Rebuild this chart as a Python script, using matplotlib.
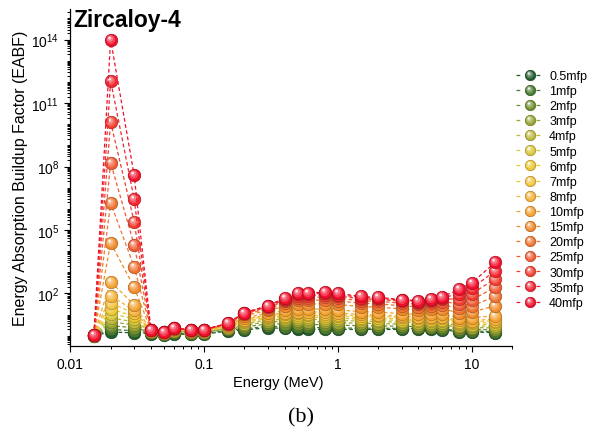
import numpy as np
import matplotlib
matplotlib.use("Agg")
import matplotlib.pyplot as plt
import matplotlib.colors as mcolors
from matplotlib.path import Path
from matplotlib.lines import Line2D
from matplotlib.legend_handler import HandlerTuple
from matplotlib.ticker import FixedLocator, FixedFormatter, LogLocator, NullFormatter, LogFormatterSciNotation

plt.rcParams['font.family'] = ['Liberation Sans', 'DejaVu Sans']
plt.rcParams['mathtext.fontset'] = 'custom'
plt.rcParams['mathtext.rm'] = 'Liberation Sans'
plt.rcParams['mathtext.it'] = 'Liberation Sans:italic'
plt.rcParams['mathtext.bf'] = 'Liberation Sans:bold'

# photon energies (MeV)
energy = [0.015, 0.02, 0.03, 0.04, 0.05, 0.06, 0.08, 0.1, 0.15, 0.2, 0.3, 0.4, 0.5,
          0.6, 0.8, 1, 1.5, 2, 3, 4, 5, 6, 8, 10, 15]

mfp_labels = ['0.5mfp', '1mfp', '2mfp', '3mfp', '4mfp', '5mfp', '6mfp', '7mfp', '8mfp',
              '10mfp', '15mfp', '20mfp', '25mfp', '30mfp', '35mfp', '40mfp']

# EABF, one list per penetration depth
b05 = [1.00, 1.51, 1.38, 1.26, 1.15, 1.20, 1.17, 1.20, 1.66, 1.91, 2.40, 2.24, 2.14, 2.09, 2.00, 2.00, 2.00, 2.00, 2.00, 2.00, 2.00, 1.91, 1.58, 1.51, 1.41]
b1 = [1.01, 2.00, 1.74, 1.38, 1.20, 1.32, 1.26, 1.29, 1.82, 2.14, 2.82, 2.69, 2.57, 2.51, 2.40, 2.34, 2.29, 2.29, 2.24, 2.24, 2.24, 2.14, 1.78, 1.70, 1.58]
b2 = [1.02, 3.02, 2.40, 1.51, 1.26, 1.48, 1.38, 1.41, 2.04, 2.63, 3.63, 3.63, 3.55, 3.47, 3.31, 3.16, 3.02, 2.95, 2.82, 2.75, 2.75, 2.69, 2.14, 2.04, 1.91]
b3 = [1.03, 4.57, 3.31, 1.58, 1.29, 1.62, 1.48, 1.51, 2.24, 3.16, 4.57, 4.79, 4.79, 4.68, 4.47, 4.17, 3.89, 3.80, 3.55, 3.39, 3.39, 3.31, 2.57, 2.45, 2.34]
b4 = [1.04, 7.08, 4.57, 1.66, 1.32, 1.74, 1.55, 1.58, 2.40, 3.72, 5.50, 6.03, 6.17, 6.03, 5.75, 5.37, 4.90, 4.79, 4.37, 4.17, 4.17, 4.07, 3.02, 2.88, 2.88]
b5 = [1.05, 11.2, 6.31, 1.70, 1.35, 1.82, 1.62, 1.66, 2.57, 4.27, 6.61, 7.41, 7.76, 7.59, 7.24, 6.76, 6.03, 5.89, 5.25, 5.01, 5.01, 4.90, 3.55, 3.39, 3.55]
b6 = [1.06, 18.6, 8.51, 1.74, 1.38, 1.91, 1.66, 1.70, 2.69, 4.79, 7.76, 8.91, 9.55, 9.33, 8.91, 8.32, 7.24, 7.08, 6.31, 5.89, 5.89, 5.89, 4.07, 3.98, 4.27]
b7 = [1.07, 35.5, 11.5, 1.78, 1.38, 1.95, 1.70, 1.74, 2.82, 5.37, 8.91, 10.5, 11.5, 11.2, 11.0, 10.0, 8.71, 8.32, 7.41, 6.92, 6.92, 6.92, 4.68, 4.57, 5.25]
b8 = [1.07, 79.4, 15.8, 1.78, 1.41, 2.00, 1.74, 1.78, 2.95, 5.89, 10.0, 12.3, 13.8, 13.5, 13.2, 12.0, 10.2, 9.77, 8.51, 7.94, 7.94, 8.13, 5.37, 5.25, 6.31]
b10 = [1.08, 363, 28.8, 1.82, 1.41, 2.09, 1.78, 1.82, 3.16, 6.92, 12.0, 15.8, 18.6, 18.2, 18.2, 16.6, 13.8, 13.2, 11.2, 10.2, 10.5, 11.0, 7.08, 7.08, 8.91]
b15 = [1.10, 2.51e4, 195, 1.86, 1.45, 2.14, 1.82, 1.86, 3.47, 8.91, 15.8, 24.5, 31.6, 31.6, 33.1, 30.2, 24.0, 22.4, 18.6, 16.6, 17.8, 19.5, 12.0, 13.2, 26.3]
b20 = [1.11, 1.91e6, 1820, 1.91, 1.45, 2.19, 1.86, 1.91, 3.63, 10.2, 19.1, 33.9, 46.8, 46.8, 50.1, 44.7, 34.7, 32.4, 26.3, 23.4, 25.7, 29.5, 20.0, 25.1, 74.1]
b25 = [1.12, 1.55e8, 1.95e4, 1.91, 1.48, 2.24, 1.86, 1.91, 3.72, 11.2, 21.9, 42.7, 63.1, 63.1, 69.2, 60.3, 45.7, 42.7, 34.7, 30.9, 35.5, 41.7, 33.1, 50.1, 195]
b30 = [1.13, 1.26e10, 2.45e5, 1.95, 1.48, 2.24, 1.91, 1.95, 3.80, 12.0, 24.0, 51.3, 79.4, 79.4, 87.1, 75.9, 56.2, 52.5, 42.7, 37.2, 44.7, 53.7, 56.2, 95.5, 501]
b35 = [1.13, 1.15e12, 2.88e6, 1.95, 1.48, 2.29, 1.91, 1.95, 3.89, 12.3, 25.1, 57.5, 93.3, 93.3, 102, 89.1, 64.6, 60.3, 47.9, 41.7, 50.1, 63.1, 93.3, 174, 1200]
b40 = [1.14, 1.0e14, 3.89e7, 1.95, 1.48, 2.29, 1.91, 1.95, 3.89, 12.6, 26.3, 63.1, 105, 105, 115, 100, 72.4, 66.1, 51.3, 45.7, 55.0, 69.2, 155, 316, 2950]

series = [b05, b1, b2, b3, b4, b5, b6, b7, b8, b10, b15, b20, b25, b30, b35, b40]

colors = ['#1f5c2e', '#467a30', '#6f8f2e', '#98a533', '#bdb83a', '#d9c83a', '#ecc832', '#f3c33e',
          '#f4b33a', '#f3a22f', '#f08a2a', '#f07432', '#f05c35', '#f24030', '#f3252f', '#f20f2c']


def mix(c, other, t):
    a = np.array(mcolors.to_rgb(c))
    b = np.array(mcolors.to_rgb(other))
    return tuple(a * (1 - t) + b * t)


# shading layers to fake the sphere look: (centre, radius, white mix)
layers = [((-0.12, 0.15), 0.72, 0.22), ((-0.22, 0.28), 0.48, 0.45), ((-0.3, 0.38), 0.22, 0.9)]
layer_markers = []
for (cx, cy), r, t in layers:
    p = Path.circle((cx, cy), r)
    layer_markers.append((p, np.max(np.abs(p.vertices)), t))

fig = plt.figure(figsize=(5.95, 4.39), dpi=100)
ax = fig.add_axes([0.1182, 0.2096, 0.8605 - 0.1182, 0.9772 - 0.2096])

D = 9.0
handles = []
for vals, c, lab in zip(series, colors, mfp_labels):
    ax.plot(energy, vals, ls=(0, (3, 2)), lw=0.9, color=c, marker='o', ms=D,
            mfc=c, mec=mix(c, 'black', 0.3), mew=0.5)
    hl = [Line2D([], [], ls=(0, (3, 5)), lw=0.9, color=c, marker='o', ms=7.5,
                 mfc=c, mec=mix(c, 'black', 0.3), mew=0.5)]
    for p, resc, t in layer_markers:
        ax.plot(energy, vals, ls='none', marker=p, ms=D * resc, mfc=mix(c, 'white', t), mew=0)
        hl.append(Line2D([], [], ls='none', marker=p, ms=7.5 * resc, mfc=mix(c, 'white', t), mew=0))
    handles.append(tuple(hl))

ax.set_xscale('log')
ax.set_yscale('log')
ax.set_xlim(0.01, 20)
ax.set_ylim(0.33, 2.8e15)

ax.spines['top'].set_visible(False)
ax.spines['right'].set_visible(False)
for s in ['left', 'bottom']:
    ax.spines[s].set_linewidth(0.9)

ax.xaxis.set_major_locator(FixedLocator([0.01, 0.1, 1, 10]))
ax.xaxis.set_major_formatter(FixedFormatter(['0.01', '0.1', '1', '10']))
ax.xaxis.set_minor_locator(LogLocator(base=10, subs=np.arange(2, 10), numticks=50))
ax.xaxis.set_minor_formatter(NullFormatter())

ax.yaxis.set_major_locator(FixedLocator([1e2, 1e5, 1e8, 1e11, 1e14]))
ax.yaxis.set_major_formatter(LogFormatterSciNotation())
ax.yaxis.set_minor_locator(LogLocator(base=10, subs=np.arange(1, 10), numticks=100))
ax.yaxis.set_minor_formatter(NullFormatter())

ax.tick_params(which='major', direction='out', length=4.5, width=0.8, labelsize=10)
ax.tick_params(which='minor', direction='out', length=2.3, width=0.7)

ax.set_xlabel('Energy (MeV)', fontsize=10.5)
ax.xaxis.set_label_coords(0.47, -0.085)
ax.set_ylabel('Energy Absorption Buildup Factor (EABF)', fontsize=11.5)
ax.yaxis.set_label_coords(-0.096, 0.5)

fig.text(73 / 595, 1 - 9 / 439, 'Zircaloy-4', ha='left', va='top', weight='bold', fontsize=16.5)
fig.text(301 / 595, 1 - 418 / 439, '(b)', ha='center', va='center', family='Liberation Serif', fontsize=16)

fig.legend(handles, mfp_labels, handler_map={tuple: HandlerTuple(ndivide=1)},
           loc='upper left', bbox_to_anchor=(516 / 595, 1 - 71 / 439), frameon=False,
           fontsize=9, handlelength=2.2, handletextpad=0.45, labelspacing=0.25,
           borderpad=0, borderaxespad=0)

fig.savefig('out.png', dpi=100)
